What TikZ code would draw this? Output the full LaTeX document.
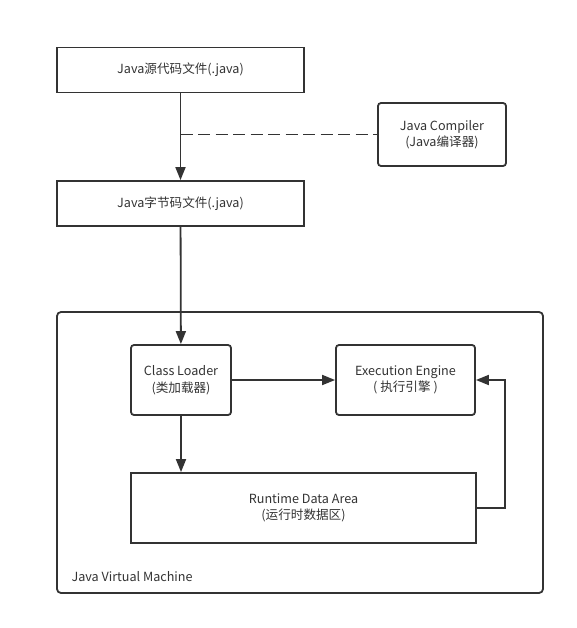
\documentclass[tikz,border=0pt]{standalone}
\usepackage{fontspec}
\setmainfont{Noto Sans CJK SC}
\usetikzlibrary{arrows.meta}
\definecolor{linegray}{HTML}{333333}
\tikzset{
  filebox/.style={draw=linegray, line width=1.8pt, minimum width=#1, minimum height=45pt, inner sep=0pt, align=center},
  partbox/.style={filebox=#1, rounded corners=3pt, minimum height=70pt},
  flow/.style={draw=linegray, line width=1.8pt, -{Triangle[length=13pt, width=10pt]}},
}

\begin{document}
\begin{tikzpicture}[x=1pt, y=-1pt, font=\fontsize{12.6}{16.5}\selectfont, text=linegray]
\useasboundingbox (0,0) rectangle (576,628);

\node[filebox=247pt] (src) at (180.5,70) {Java源代码文件(.java)};
\node[filebox=247pt] (bytecode) at (180.5,203.5) {Java字节码文件(.java)};
\node[partbox=128pt, minimum height=63pt] (compiler) at (442,134.5) {Java Compiler\\(Java编译器)};

% the virtual machine
\draw[draw=linegray, line width=1.8pt, rounded corners=4pt] (57,312) rectangle (543,593);
\node[anchor=west] (jvm) at (68,577) {Java Virtual Machine};

\node[partbox=100pt] (loader) at (181,380) {Class Loader\\(类加载器)};
\node[partbox=139pt] (engine) at (405.5,380) {Execution Engine\\( 执行引擎 )};
\node[filebox=345pt, minimum height=70pt] (runtime) at (303.5,508) {Runtime Data Area\\(运行时数据区)};

\coordinate (mid) at (src.south |- compiler.west);
\coordinate (back) at (505,0);

\draw[flow] (src) -- (bytecode);
\draw[draw=linegray, line width=1.8pt, dash pattern=on 12pt off 5.5pt] (mid) -- (compiler.west);
\draw[flow] (bytecode) -- (loader);
\draw[flow] (loader) -- (engine);
\draw[flow] (loader) -- (loader.south |- runtime.north);
\draw[flow] (runtime.east) -- (back |- runtime.east) -- (back |- engine.east) -- (engine.east);
\end{tikzpicture}
\end{document}
